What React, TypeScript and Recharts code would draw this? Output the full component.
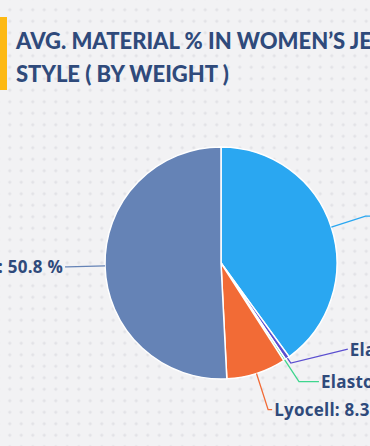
import React from 'react';
import { PieChart, Pie, Cell } from 'recharts';

const materials = ['Polyester', 'Elastane', 'Elastomultiester', 'Lyocell', 'Cotton'];
const shares = [40.0, 0.6, 0.3, 8.3, 50.8];
const COLORS = ['#2AA7F1', '#5B4FD0', '#3FD68E', '#F26B36', '#6583B6'];

// label line layout per slice: radial extension, horizontal run, vertical nudge
const LABEL_EXT = [36, 6, 26, 38, 38];
const LABEL_RUN = [20, 57, 20, 4, 2];
const LABEL_DY = [0, -14, 0, 0, 0];

const RAD = Math.PI / 180;
const NAVY = '#2F4A7B';

const data = materials.map((name, i) => ({ name, value: shares[i] }));

const renderLabel = (props: any) => {
  const { cx, cy, midAngle, outerRadius, index, name, value } = props;
  const cos = Math.cos(-midAngle * RAD);
  const sin = Math.sin(-midAngle * RAD);
  const sx = cx + outerRadius * cos;
  const sy = cy + outerRadius * sin;
  const ex = cx + (outerRadius + LABEL_EXT[index]) * cos;
  const ey = cy + (outerRadius + LABEL_EXT[index]) * sin;
  const dir = cos >= 0 ? 1 : -1;
  const tx = ex + dir * LABEL_RUN[index];
  const ty = ey + LABEL_DY[index];
  return (
    <g key={`label-${index}`}>
      <polyline
        points={`${sx},${sy} ${ex},${ey} ${tx},${ty}`}
        fill="none"
        stroke={COLORS[index]}
        strokeWidth={1.3}
      />
      <text
        x={tx + dir * 2}
        y={ty}
        textAnchor={dir > 0 ? 'start' : 'end'}
        dominantBaseline="central"
        fill={NAVY}
        fontSize={17}
        fontWeight={700}
        letterSpacing={0.25}
        fontFamily="'Open Sans', sans-serif"
      >
        {`${name}: ${value.toFixed(1)} %`}
      </text>
    </g>
  );
};

export default function App() {
  return (
    <div
      style={{
        position: 'fixed',
        left: 0,
        top: 0,
        width: 370,
        height: 446,
        overflow: 'hidden',
        background: 'radial-gradient(circle, #e2e2e6 1.3px, transparent 1.7px) 4px 4px / 11.5px 11.5px, #f2f2f4',
      }}
    >
      <div style={{ position: 'absolute', left: 0, top: 17, width: 7, height: 73, background: '#FDB913' }} />
      <div
        style={{
          position: 'absolute',
          left: 16,
          top: 24,
          whiteSpace: 'nowrap',
          color: NAVY,
          fontFamily: 'Lato, sans-serif',
          fontWeight: 900,
          fontSize: 22,
          lineHeight: '33px',
        }}
      >
        <div>AVG. MATERIAL % IN WOMEN’S JEANS BY</div>
        <div>STYLE ( BY WEIGHT )</div>
      </div>
      <div style={{ position: 'absolute', left: 0, top: 0 }}>
        <PieChart width={370} height={446} margin={{ top: 0, right: 0, bottom: 0, left: 0 }}>
          <Pie
            data={data}
            dataKey="value"
            nameKey="name"
            cx={221}
            cy={263}
            outerRadius={116}
            startAngle={90}
            endAngle={-270}
            stroke="#ffffff"
            strokeWidth={1.5}
            label={renderLabel}
            labelLine={false}
            isAnimationActive={false}
          >
            {data.map((entry, index) => (
              <Cell key={`cell-${index}`} fill={COLORS[index]} />
            ))}
          </Pie>
        </PieChart>
      </div>
    </div>
  );
}
